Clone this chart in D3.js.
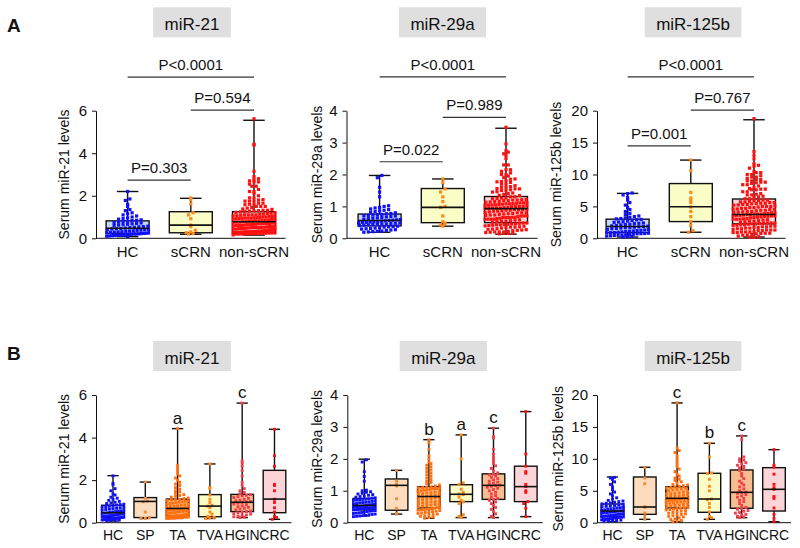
<!DOCTYPE html>
<html><head><meta charset="utf-8">
<script src="https://cdn.jsdelivr.net/npm/d3@7"></script>
<style>body{margin:0;background:#fff}svg{display:block}text{font-family:"Liberation Sans",Arial,sans-serif;fill:#111}</style>
</head><body><svg id="c" width="800" height="548"></svg>
<script>
// ---------- categories & ticks ----------
const catsA = ["HC", "sCRN", "non-sCRN"];
const catsB = ["HC", "SP", "TA", "TVA", "HGIN", "CRC"];
const titles = ["miR-21", "miR-29a", "miR-125b"];
const yLabels = ["Serum miR-21 levels", "Serum miR-29a levels", "Serum miR-125b levels"];
const ticks21 = [0, 2, 4, 6];
const ticks29 = [0, 1, 2, 3, 4];
const ticks125 = [0, 5, 10, 15, 20];

// ---------- individual values (read from the dot clouds) ----------
const hc21 = [0.08,0.1,0.11,0.12,0.13,0.14,0.15,0.15,0.16,0.17,0.18,0.19,0.2,0.2,0.21,0.22,0.23,
 0.24,0.25,0.26,0.28,0.29,0.3,0.31,0.33,0.34,0.35,0.37,0.38,0.4,0.41,0.42,0.44,0.45,0.46,
 0.48,0.5,0.52,0.54,0.55,0.57,0.6,0.62,0.64,0.66,0.68,0.7,0.72,0.74,0.76,0.78,0.8,
 0.83,0.85,0.87,0.9,0.93,0.96,1.0,1.05,1.1,1.15,1.2,1.3,1.35,1.5,1.6,1.78,1.85,2.2];
const hc29 = [0.19,0.2,0.21,0.22,0.23,0.25,0.26,0.27,0.29,0.3,0.31,0.32,0.33,0.35,0.36,0.37,0.38,
 0.4,0.41,0.42,0.43,0.44,0.45,0.45,0.46,0.47,0.48,0.49,0.5,0.5,0.51,0.52,0.53,0.54,0.55,
 0.56,0.57,0.58,0.59,0.6,0.62,0.63,0.64,0.65,0.67,0.68,0.7,0.71,0.72,0.73,0.74,0.75,
 0.77,0.78,0.8,0.82,0.84,0.86,0.88,0.9,0.92,0.95,0.97,1.0,1.02,1.3,1.45,1.6,1.9,1.97];
const hc125 = [0.2,0.25,0.3,0.35,0.4,0.45,0.5,0.5,0.55,0.6,0.65,0.7,0.72,0.75,0.8,0.85,0.88,
 0.9,0.95,1.0,1.05,1.1,1.15,1.2,1.25,1.3,1.35,1.4,1.5,1.55,1.6,1.65,1.7,1.75,1.8,
 1.85,1.9,1.95,2.0,2.1,2.15,2.2,2.3,2.35,2.4,2.5,2.55,2.6,2.7,2.8,2.9,2.95,
 3.05,3.1,3.2,3.3,3.4,3.5,3.7,3.9,4.2,4.5,4.8,5.2,5.6,6.0,6.4,6.8,7.0,7.1];

const scrn21 = [1.9,1.82,1.62,1.2,1.1,0.92,0.62,0.55,0.38,0.3,0.26,0.22,0.2];
const scrn29 = [1.86,1.75,1.55,1.45,1.3,1.15,1.0,0.97,0.7,0.52,0.47,0.42,0.38];
const scrn125 = [12.26,10.6,7.2,6.3,6.0,5.6,4.9,4.2,3.4,2.6,2.0,1.2,0.95];

const sp21 = [1.91,1.15,1.02,0.98,0.5,0.24,0.2,0.2];
const sp29 = [1.64,1.3,1.2,1.15,0.75,0.45,0.3,0.27];
const sp125 = [8.68,7.0,6.1,2.5,2.4,1.5,1.0,0.53];

const ta21 = [0.2,0.2,0.21,0.22,0.22,0.23,0.24,0.24,0.25,0.26,0.26,0.27,0.28,0.28,0.29,0.3,0.3,0.31,0.31,0.32,0.32,0.33,
 0.34,0.35,0.37,0.38,0.4,0.41,0.43,0.45,0.46,0.48,0.5,0.51,0.53,0.55,0.56,0.58,0.6,0.61,0.62,0.64,0.65,0.66,
 0.68,0.7,0.72,0.74,0.76,0.78,0.8,0.82,0.84,0.86,0.88,0.9,0.92,0.94,0.96,0.98,1.0,1.02,1.04,1.06,1.08,1.1,
 1.13,1.16,1.2,1.24,1.28,1.32,1.38,1.45,1.5,1.58,1.65,1.75,1.82,1.9,2.0,2.1,2.2,2.3,2.45,2.55,2.7,4.42];
const ta29 = [0.14,0.16,0.18,0.2,0.22,0.24,0.26,0.27,0.29,0.3,0.32,0.33,0.35,0.36,0.38,0.39,0.4,0.41,0.42,0.43,0.44,0.45,
 0.47,0.48,0.5,0.52,0.54,0.55,0.57,0.58,0.6,0.62,0.63,0.65,0.66,0.68,0.7,0.72,0.73,0.75,0.77,0.78,0.8,0.81,
 0.83,0.85,0.86,0.88,0.9,0.91,0.93,0.94,0.96,0.97,0.99,1.0,1.02,1.03,1.05,1.06,1.07,1.08,1.09,1.1,1.11,1.12,
 1.15,1.18,1.22,1.26,1.3,1.35,1.4,1.45,1.5,1.55,1.6,1.65,1.7,1.75,1.8,1.85,1.9,2.0,2.1,2.3,2.5,2.6];
const ta125 = [0.15,0.25,0.35,0.5,0.6,0.75,0.9,1.0,1.1,1.2,1.3,1.4,1.5,1.6,1.7,1.8,1.9,2.0,2.05,2.1,2.2,2.25,
 2.35,2.4,2.5,2.6,2.7,2.75,2.85,2.9,3.0,3.05,3.1,3.2,3.25,3.35,3.4,3.45,3.5,3.55,3.6,3.65,3.7,3.8,
 3.85,3.9,4.0,4.1,4.15,4.2,4.3,4.4,4.5,4.55,4.6,4.7,4.8,4.9,5.0,5.1,5.2,5.3,5.4,5.45,5.5,5.6,
 5.7,5.8,5.9,6.0,6.2,6.4,6.6,6.8,7.0,7.3,7.6,8.0,8.4,8.8,9.2,9.6,10.0,10.5,11.0,11.3,11.7,18.76];

const tva21 = [2.76,1.65,1.6,1.3,1.1,0.95,0.82,0.78,0.7,0.5,0.4,0.3,0.25,0.22,0.2];
const tva29 = [2.75,2.0,1.25,1.2,1.05,0.95,0.9,0.88,0.8,0.7,0.65,0.6,0.25,0.2,0.16];
const tva125 = [12.44,10.3,7.8,7.7,6.8,5.7,5.0,3.71,3.6,3.0,2.4,1.7,1.0,0.8,0.53];

const hgin21 = [0.24,0.26,0.28,0.3,0.33,0.36,0.4,0.43,0.46,0.49,0.52,
 0.55,0.6,0.64,0.68,0.72,0.76,0.8,0.84,0.88,0.92,0.95,
 0.98,1.0,1.03,1.06,1.1,1.14,1.18,1.22,1.26,1.29,1.32,
 1.36,1.42,1.5,1.6,1.75,1.9,2.2,2.45,2.65,2.8,2.9,5.62];
const hgin29 = [0.16,0.2,0.28,0.35,0.42,0.48,0.54,0.6,0.65,0.7,0.73,
 0.76,0.8,0.85,0.9,0.95,1.0,1.04,1.08,1.11,1.14,1.16,
 1.18,1.21,1.24,1.27,1.3,1.34,1.38,1.42,1.46,1.5,1.52,
 1.56,1.62,1.7,1.78,1.86,1.95,2.05,2.15,2.3,2.65,2.7,2.96];
const hgin125 = [0.79,0.9,1.0,1.2,1.3,1.5,1.6,1.8,1.9,2.1,2.25,
 2.4,2.7,3.0,3.3,3.5,3.8,4.0,4.2,4.4,4.6,4.7,
 4.8,5.0,5.3,5.6,5.9,6.2,6.5,6.9,7.3,7.7,8.2,
 8.4,8.6,8.8,9.0,9.2,9.4,9.6,9.8,10.0,10.3,13.0,13.59];

const crc21 = [4.39,3.15,2.65,1.8,1.75,1.5,1.1,0.95,0.7,0.5,0.3,0.25,0.16];
const crc29 = [3.48,2.15,1.77,1.6,1.55,1.2,1.13,1.0,0.95,0.66,0.6,0.45,0.19];
const crc125 = [11.44,9.0,8.7,7.6,6.0,5.5,5.23,4.1,3.8,2.3,1.3,0.7,0.15];

// non-sCRN = TA + TVA + HGIN + CRC
const non21 = [].concat(ta21, tva21, hgin21, crc21);
const non29 = [].concat(ta29, tva29, hgin29, crc29);
const non125 = [].concat(ta125, tva125, hgin125, crc125);

// ---------- box statistics [min, Q1, median, Q3, max] ----------
const statsA21 = [[0.08,0.23,0.47,0.82,2.2],[0.19,0.26,0.62,1.25,1.88],[0.15,0.28,0.78,1.25,5.55]];
const statsA29 = [[0.19,0.39,0.56,0.76,1.97],[0.38,0.49,0.97,1.56,1.86],[0.13,0.49,0.93,1.31,3.45]];
const statsA125 = [[0.2,0.89,1.84,3.0,7.04],[0.95,2.62,4.94,8.58,12.26],[0.2,2.26,3.73,6.16,18.58]];
const statsB21 = [[0.08,0.24,0.47,0.82,2.21],[0.2,0.24,1.0,1.18,1.91],[0.2,0.33,0.67,1.11,4.42],
 [0.2,0.28,0.78,1.32,2.76],[0.24,0.52,0.96,1.33,5.62],[0.16,0.47,1.11,2.46,4.39]];
const statsB29 = [[0.21,0.4,0.54,0.76,1.99],[0.27,0.39,1.17,1.37,1.64],[0.14,0.46,0.82,1.13,2.6],
 [0.16,0.66,0.89,1.19,2.75],[0.16,0.73,1.17,1.53,2.96],[0.19,0.66,1.13,1.77,3.48]];
const statsB125 = [[0.2,0.94,1.83,2.93,7.16],[0.53,1.31,2.46,7.16,8.68],[0.15,2.3,3.82,5.64,18.76],
 [0.53,1.63,3.71,7.74,12.44],[0.79,2.26,4.76,8.26,13.59],[0.15,1.83,5.23,8.62,11.44]];

// ---------- significance annotations ----------
const pA21 = [["HC","non-sCRN","P<0.0001",7.58],["sCRN","non-sCRN","P=0.594",6.03],["HC","sCRN","P=0.303",2.74]];
const pA29 = [["HC","non-sCRN","P<0.0001",5.06],["sCRN","non-sCRN","P=0.989",3.79],["HC","sCRN","P=0.022",2.40]];
const pA125 = [["HC","non-sCRN","P<0.0001",25.3],["sCRN","non-sCRN","P=0.767",20.1],["HC","sCRN","P=0.001",14.5]];
const lettersB21 = [["TA","a"],["HGIN","c"]];
const lettersB29 = [["TA","b"],["TVA","a"],["HGIN","c"]];
const lettersB125 = [["TA","c"],["TVA","b"],["HGIN","c"]];

// ---------- styles ----------
const boxFill = {HC:"#c6d9f1", sCRN:"#fbfdc6", "non-sCRN":"#fdd5d8", SP:"#fcdcbd", TA:"#fbc793", TVA:"#fbfdc6", HGIN:"#f9be8f", CRC:"#fdd5d8"};
const dotFill = {HC:"#1010ff", sCRN:"#ff8a1c", "non-sCRN":"#ff1010", SP:"#f08a3c", TA:"#ff7010", TVA:"#ff8a1c", HGIN:"#f0404c", CRC:"#ff1010"};

const svg = d3.select("#c");
const INK = "#111";

function panel(cfg) {
  const g = svg.append("g");
  const n = cfg.cats.length;
  const x = d3.scaleBand().domain(cfg.cats)
    .range([cfg.axisX + cfg.shift, cfg.axisX + cfg.shift + cfg.step * (n - cfg.pi + 2 * cfg.po)])
    .paddingInner(cfg.pi).paddingOuter(cfg.po);
  const y = d3.scaleLinear().domain([0, d3.max(cfg.ticks)]).range([cfg.y0, cfg.y1]);
  const bw = x.bandwidth();
  const cx = c => x(c) + bw / 2;

  // title box
  const tt = g.append("text").attr("x", cfg.axisX + 96).attr("y", cfg.titleY)
    .attr("text-anchor", "middle").style("font-size", "17px").text(cfg.title);
  const tw = tt.node().getComputedTextLength();
  g.insert("rect", "text").attr("x", cfg.axisX + 96 - tw / 2 - 11.5).attr("y", cfg.titleY - 22.7)
    .attr("width", tw + 23).attr("height", 30).attr("fill", "#dfdfdf");

  // y axis
  const ya = g.append("g").attr("transform", `translate(${cfg.axisX},0)`)
    .call(d3.axisLeft(y).tickValues(cfg.ticks).tickSize(4).tickSizeOuter(0).tickPadding(5).tickFormat(d3.format("d")));
  ya.selectAll("text").style("font-size", "15px").attr("fill", INK);
  ya.selectAll("line,path").attr("stroke", INK);
  // x axis
  const xa = g.append("g").attr("transform", `translate(0,${cfg.y0})`)
    .call(d3.axisBottom(x).tickSize(0).tickSizeOuter(0).tickPadding(cfg.labPad));
  xa.select("path").attr("d", `M${cfg.axisX},0H${x.range()[1]}`).attr("stroke", INK);
  xa.selectAll("text").style("font-size", cfg.catFont + "px").attr("fill", INK);

  // y label
  g.append("text").attr("transform", `translate(${cfg.ylabX},${(cfg.y0 + cfg.y1) / 2}) rotate(-90)`)
    .attr("text-anchor", "middle").style("font-size", "14px").text(cfg.ylabel);

  cfg.cats.forEach((c, i) => {
    const s = cfg.stats[i];
    const xc = cx(c);
    const cap = bw * 0.5;
    const wg = g.append("g").attr("stroke", INK).attr("stroke-width", 1.4);
    wg.append("line").attr("x1", xc).attr("x2", xc).attr("y1", y(s[0])).attr("y2", y(s[1]));
    wg.append("line").attr("x1", xc).attr("x2", xc).attr("y1", y(s[3])).attr("y2", y(s[4]));
    wg.append("line").attr("x1", xc - cap / 2).attr("x2", xc + cap / 2).attr("y1", y(s[4])).attr("y2", y(s[4]));
    wg.append("line").attr("x1", xc - cap / 2).attr("x2", xc + cap / 2).attr("y1", y(s[0])).attr("y2", y(s[0]));
    g.append("rect").attr("x", x(c)).attr("y", y(s[3])).attr("width", bw).attr("height", y(s[1]) - y(s[3]))
      .attr("fill", boxFill[c]).attr("stroke", INK).attr("stroke-width", 1.4);
    // beeswarm-like dot layout
    const vals = cfg.values[i].slice().sort((a, b) => a - b);
    const rows = d3.group(vals, v => Math.round(y(v) / cfg.rowH));
    const ds = cfg.dot;
    const spread = bw + 2;
    rows.forEach((arr, r) => {
      const k = arr.length;
      const sp = k > 1 ? Math.min(ds + 1.3, (spread - ds) / (k - 1)) : 0;
      arr.forEach((v, j) => {
        const xo = (j - (k - 1) / 2) * sp;
        g.append("rect").attr("x", xc + xo - ds / 2).attr("y", y(v) - ds / 2)
          .attr("width", ds).attr("height", ds).attr("fill", dotFill[c]);
      });
    });
    g.append("line").attr("x1", x(c)).attr("x2", x(c) + bw).attr("y1", y(s[2])).attr("y2", y(s[2]))
      .attr("stroke", INK).attr("stroke-width", 1.6);
  });

  // P-value brackets
  (cfg.pvals || []).forEach(p => {
    const yy = y(p[3]);
    g.append("line").attr("x1", cx(p[0])).attr("x2", cx(p[1])).attr("y1", yy).attr("y2", yy)
      .attr("stroke", "#333").attr("stroke-width", 1.2);
    g.append("text").attr("x", (cx(p[0]) + cx(p[1])) / 2).attr("y", yy - 7)
      .attr("text-anchor", "middle").style("font-size", "15px").text(p[2]);
  });
  // letters
  (cfg.letters || []).forEach(l => {
    const i = cfg.cats.indexOf(l[0]);
    g.append("text").attr("x", cx(l[0])).attr("y", y(cfg.stats[i][4]) - 5)
      .attr("text-anchor", "middle").style("font-size", "17px").text(l[1]);
  });
}

const A = {cats: catsA, step: 63.2, pi: 0.32, po: 0.16, y0: 238.3, y1: 110.7, titleY: 30, labPad: 8, catFont: 15, rowH: 3.4, dot: 3.2};
const B = {cats: catsB, step: 32.3, pi: 0.3, po: 0.176, y0: 522.7, y1: 395, titleY: 363.7, labPad: 7, catFont: 14, rowH: 3.2, dot: 2.9};

panel(Object.assign({}, A, {axisX: 96, shift: 0, ticks: ticks21, title: titles[0], ylabel: yLabels[0], ylabX: 69,
  values: [hc21, scrn21, non21], stats: statsA21, pvals: pA21}));
panel(Object.assign({}, A, {axisX: 346.5, shift: 1.5, ticks: ticks29, title: titles[1], ylabel: yLabels[1], ylabX: 322,
  values: [hc29, scrn29, non29], stats: statsA29, pvals: pA29}));
panel(Object.assign({}, A, {axisX: 597, shift: -1, ticks: ticks125, title: titles[2], ylabel: yLabels[2], ylabX: 561,
  values: [hc125, scrn125, non125], stats: statsA125, pvals: pA125}));
panel(Object.assign({}, B, {axisX: 96, shift: 0, ticks: ticks21, title: titles[0], ylabel: yLabels[0], ylabX: 69,
  values: [hc21, sp21, ta21, tva21, hgin21, crc21], stats: statsB21, letters: lettersB21}));
panel(Object.assign({}, B, {axisX: 347.3, shift: 0, ticks: ticks29, title: titles[1], ylabel: yLabels[1], ylabX: 322,
  values: [hc29, sp29, ta29, tva29, hgin29, crc29], stats: statsB29, letters: lettersB29}));
panel(Object.assign({}, B, {axisX: 597, shift: -1.5, ticks: ticks125, title: titles[2], ylabel: yLabels[2], ylabX: 563,
  values: [hc125, sp125, ta125, tva125, hgin125, crc125], stats: statsB125, letters: lettersB125}));

// panel letters
svg.append("text").attr("x", 7).attr("y", 31.7).style("font-size", "19px").style("font-weight", "bold").text("A");
svg.append("text").attr("x", 7).attr("y", 360).style("font-size", "19px").style("font-weight", "bold").text("B");
</script></body></html>
